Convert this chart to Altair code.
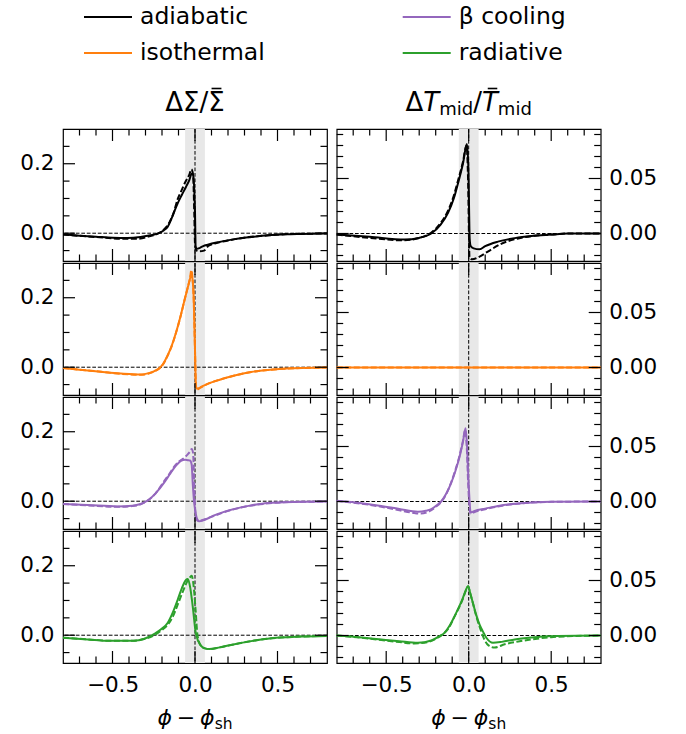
import altair as alt
import pandas as pd

# ---------------- data ----------------
models = ["adiabatic", "isothermal", "β cooling", "radiative"]
model_colors = ["#000000", "#ff7f0e", "#9467bd", "#2ca02c"]

x_major = [-0.5, 0.0, 0.5]
x_minor = [-0.7, -0.6, -0.4, -0.3, -0.2, -0.1, 0.1, 0.2, 0.3, 0.4, 0.6, 0.7]
sig_major = [0.0, 0.2]
sig_minor = [-0.05, 0.05, 0.1, 0.15, 0.25]
t_major = [0.0, 0.05]
t_minor = [-0.02, -0.01, 0.01, 0.02, 0.03, 0.04, 0.06, 0.07, 0.08, 0.09]

XDOM = [-0.8, 0.8]
YDOM_SIG = [-0.08, 0.3]
YDOM_T = [-0.025, 0.095]
shock_band = [-0.06, 0.06]

# adiabatic, surface density
adi_sig_x = [-0.8, -0.7, -0.6, -0.5, -0.41, -0.33, -0.27, -0.23, -0.19, -0.165, -0.14, -0.105, -0.08, -0.055, -0.035, -0.02, -0.012, 0.0, 0.004, 0.012, 0.03, 0.05, 0.077, 0.15, 0.24, 0.34, 0.44, 0.55, 0.64, 0.8]
adi_sig_y = [-0.004, -0.007, -0.010, -0.013, -0.014, -0.011, -0.006, -0.002, 0.008, 0.019, 0.045, 0.086, 0.11, 0.133, 0.152, 0.171, 0.168, 0.06, -0.04, -0.045, -0.042, -0.037, -0.033, -0.025, -0.017, -0.011, -0.006, -0.003, -0.002, -0.001]
adi_sig_dx = [-0.8, -0.6, -0.45, -0.35, -0.27, -0.23, -0.19, -0.16, -0.13, -0.105, -0.08, -0.06, -0.035, -0.022, -0.012, -0.004, 0.0, 0.01, 0.03, 0.055, 0.08, 0.12, 0.2, 0.3, 0.45, 0.6, 0.8]
adi_sig_dy = [-0.004, -0.011, -0.016, -0.016, -0.008, -0.002, 0.01, 0.027, 0.058, 0.098, 0.125, 0.146, 0.168, 0.184, 0.17, 0.05, -0.03, -0.05, -0.052, -0.05, -0.037, -0.03, -0.021, -0.013, -0.006, -0.002, -0.001]

# adiabatic, midplane temperature
adi_t_x = [-0.8, -0.6, -0.389, -0.3, -0.227, -0.17, -0.126, -0.09, -0.065, -0.035, -0.011, -0.002, 0.006, 0.012, 0.03, 0.066, 0.1, 0.177, 0.28, 0.38, 0.5, 0.6, 0.8]
adi_t_y = [-0.001, -0.003, -0.0054, -0.004, 0.0, 0.008, 0.0185, 0.032, 0.0455, 0.0634, 0.0813, 0.06, -0.005, -0.0114, -0.0135, -0.0144, -0.0115, -0.0074, -0.0042, -0.0023, -0.001, 0.0, 0.0]
adi_t_dx = [-0.8, -0.6, -0.4, -0.3, -0.23, -0.17, -0.126, -0.09, -0.065, -0.035, -0.013, -0.004, 0.005, 0.02, 0.066, 0.116, 0.197, 0.3, 0.4, 0.5, 0.6, 0.8]
adi_t_dy = [-0.001, -0.004, -0.0062, -0.004, 0.0005, 0.0095, 0.0205, 0.0345, 0.048, 0.065, 0.080, 0.05, -0.022, -0.0235, -0.021, -0.0164, -0.0094, -0.0045, -0.002, -0.001, 0.0, 0.0]

# isothermal, surface density
iso_sig_x = [-0.8, -0.7, -0.57, -0.45, -0.327, -0.28, -0.246, -0.22, -0.195, -0.17, -0.145, -0.115, -0.085, -0.06, -0.044, -0.03, -0.024, -0.018, -0.008, 0.0, 0.006, 0.012, 0.04, 0.077, 0.15, 0.24, 0.34, 0.44, 0.6, 0.8]
iso_sig_y = [-0.002, -0.007, -0.013, -0.018, -0.021, -0.017, -0.011, -0.004, 0.008, 0.03, 0.057, 0.1, 0.152, 0.2, 0.229, 0.255, 0.267, 0.262, 0.2, 0.05, -0.055, -0.062, -0.056, -0.048, -0.036, -0.024, -0.014, -0.008, -0.003, -0.001]
iso_sig_dx = [-0.8, -0.7, -0.57, -0.45, -0.327, -0.28, -0.246, -0.22, -0.195, -0.17, -0.145, -0.115, -0.085, -0.06, -0.044, -0.03, -0.022, -0.016, -0.008, 0.0, 0.006, 0.014, 0.04, 0.077, 0.15, 0.24, 0.34, 0.44, 0.6, 0.8]
iso_sig_dy = [-0.002, -0.007, -0.013, -0.019, -0.022, -0.018, -0.012, -0.005, 0.007, 0.029, 0.056, 0.099, 0.151, 0.2, 0.23, 0.257, 0.28, 0.262, 0.2, 0.05, -0.057, -0.064, -0.057, -0.048, -0.036, -0.024, -0.014, -0.008, -0.003, -0.001]

# isothermal, midplane temperature (no perturbation)
iso_t_x = [-0.8, 0.8]
iso_t_y = [0.0, 0.0]
iso_t_dx = [-0.8, 0.8]
iso_t_dy = [0.0, 0.0]

# beta cooling, surface density
bet_sig_x = [-0.8, -0.65, -0.47, -0.38, -0.33, -0.287, -0.24, -0.186, -0.155, -0.125, -0.1, -0.085, -0.06, -0.044, -0.03, -0.02, -0.014, -0.006, 0.0, 0.012, 0.026, 0.05, 0.08, 0.116, 0.18, 0.24, 0.34, 0.44, 0.6, 0.8]
bet_sig_y = [-0.008, -0.011, -0.015, -0.013, -0.008, 0.002, 0.022, 0.054, 0.076, 0.097, 0.11, 0.116, 0.119, 0.118, 0.117, 0.105, 0.054, 0.0, -0.022, -0.05, -0.058, -0.055, -0.049, -0.041, -0.03, -0.022, -0.012, -0.005, -0.002, -0.001]
bet_sig_dx = [-0.8, -0.65, -0.47, -0.38, -0.33, -0.29, -0.24, -0.19, -0.155, -0.125, -0.1, -0.08, -0.06, -0.044, -0.03, -0.02, -0.012, -0.004, 0.004, 0.015, 0.03, 0.06, 0.1, 0.18, 0.3, 0.45, 0.6, 0.8]
bet_sig_dy = [-0.008, -0.012, -0.016, -0.014, -0.009, 0.001, 0.022, 0.056, 0.079, 0.1, 0.113, 0.12, 0.127, 0.135, 0.143, 0.15, 0.14, 0.04, -0.045, -0.056, -0.056, -0.052, -0.045, -0.031, -0.016, -0.006, -0.002, -0.001]

# beta cooling, midplane temperature
bet_t_x = [-0.8, -0.65, -0.53, -0.42, -0.308, -0.26, -0.227, -0.19, -0.167, -0.135, -0.106, -0.08, -0.055, -0.035, -0.019, -0.01, 0.0, 0.012, 0.036, 0.1, 0.178, 0.28, 0.38, 0.5, 0.8]
bet_t_y = [0.0006, -0.0015, -0.004, -0.0068, -0.0093, -0.0085, -0.007, -0.003, 0.0, 0.0075, 0.017, 0.028, 0.041, 0.054, 0.0665, 0.05, 0.015, -0.01, -0.0085, -0.0065, -0.004, -0.002, -0.001, -0.0003, 0.0]
bet_t_dx = [-0.8, -0.65, -0.53, -0.42, -0.33, -0.29, -0.24, -0.2, -0.17, -0.135, -0.106, -0.08, -0.055, -0.035, -0.021, -0.012, -0.002, 0.01, 0.036, 0.1, 0.178, 0.28, 0.38, 0.5, 0.8]
bet_t_dy = [0.0004, -0.002, -0.0048, -0.008, -0.0105, -0.011, -0.009, -0.005, -0.001, 0.007, 0.0175, 0.029, 0.042, 0.055, 0.065, 0.05, 0.012, -0.011, -0.0095, -0.007, -0.0045, -0.0022, -0.001, -0.0003, 0.0]

# radiative, surface density
rad_sig_x = [-0.8, -0.65, -0.52, -0.37, -0.307, -0.246, -0.2, -0.165, -0.135, -0.105, -0.08, -0.055, -0.044, -0.03, -0.014, 0.006, 0.036, 0.06, 0.087, 0.15, 0.24, 0.34, 0.44, 0.64, 0.8]
rad_sig_y = [-0.007, -0.012, -0.016, -0.016, -0.01, 0.004, 0.019, 0.036, 0.065, 0.102, 0.135, 0.159, 0.162, 0.14, 0.084, 0.003, -0.03, -0.038, -0.04, -0.035, -0.026, -0.017, -0.01, -0.004, -0.002]
rad_sig_dx = [-0.8, -0.65, -0.52, -0.37, -0.3, -0.24, -0.2, -0.165, -0.13, -0.1, -0.07, -0.045, -0.03, -0.02, -0.008, 0.004, 0.015, 0.035, 0.06, 0.09, 0.15, 0.24, 0.34, 0.44, 0.64, 0.8]
rad_sig_dy = [-0.007, -0.012, -0.016, -0.016, -0.01, 0.002, 0.015, 0.03, 0.058, 0.094, 0.13, 0.157, 0.167, 0.171, 0.14, 0.07, 0.0, -0.03, -0.038, -0.04, -0.035, -0.026, -0.017, -0.01, -0.004, -0.002]

# radiative, midplane temperature
rad_t_x = [-0.8, -0.65, -0.53, -0.42, -0.308, -0.227, -0.185, -0.147, -0.115, -0.086, -0.06, -0.036, -0.018, -0.004, 0.01, 0.026, 0.045, 0.066, 0.085, 0.107, 0.147, 0.2, 0.279, 0.38, 0.48, 0.8]
rad_t_y = [0.0, -0.0018, -0.0036, -0.0052, -0.0066, -0.0045, -0.0012, 0.0024, 0.009, 0.0174, 0.0255, 0.0338, 0.041, 0.045, 0.038, 0.0294, 0.019, 0.0099, 0.004, -0.002, -0.0066, -0.0058, -0.0036, -0.0018, -0.0006, 0.0]
rad_t_dx = [-0.8, -0.65, -0.53, -0.42, -0.33, -0.25, -0.2, -0.16, -0.12, -0.09, -0.06, -0.036, -0.018, -0.004, 0.01, 0.026, 0.045, 0.066, 0.09, 0.12, 0.157, 0.218, 0.3, 0.38, 0.5, 0.8]
rad_t_dy = [0.0, -0.002, -0.0042, -0.006, -0.0072, -0.006, -0.003, 0.0008, 0.007, 0.016, 0.025, 0.033, 0.0405, 0.0445, 0.038, 0.029, 0.018, 0.008, -0.002, -0.009, -0.011, -0.008, -0.0055, -0.0036, -0.0015, 0.0]

# ---------------- style / layout ----------------
FONT = "DejaVu Sans"
LABEL_FS = 21.5
W, H = 264, 132
MAJ, MIN = 12, 6.5
TICK_W = 1.2
BAND_COLOR = "#e8e8e8"

color_scale = alt.Scale(domain=models, range=model_colors)

EM = {"Δ": 0.684, "Σ": 0.632, "/": 0.337, "T": 0.611, "m": 0.974, "i": 0.278,
      "d": 0.635, "ϕ": 0.66, "−": 0.838, "s": 0.521, "h": 0.634}


def label_axis(orient, values, fmt, pad):
    # labels only; ticks are drawn by tick layers
    return alt.Axis(orient=orient, values=values, format=fmt, labels=True, ticks=True,
                    tickSize=2, tickOpacity=0, domain=False, grid=False, title=None,
                    labelFontSize=LABEL_FS, labelFont=FONT, labelColor="black",
                    labelPadding=pad)


def tick_layer(values, channel, scale, pos, size):
    df = pd.DataFrame({"v": values})
    if channel == "x":
        enc = dict(x=alt.X("v:Q", scale=scale, axis=None), y=alt.value(pos))
    else:
        enc = dict(y=alt.Y("v:Q", scale=scale, axis=None), x=alt.value(pos))
    return alt.Chart(df).mark_tick(color="black", size=size, thickness=TICK_W, opacity=1).encode(**enc)


def panel(xs, ys, xd, yd, model, col, bottom):
    ydom = YDOM_SIG if col == 0 else YDOM_T
    sx = alt.Scale(domain=XDOM, nice=False, zero=False)
    sy = alt.Scale(domain=ydom, nice=False, zero=False)
    solid = pd.DataFrame({"x": xs, "y": ys, "model": model})
    dashed = pd.DataFrame({"x": xd, "y": yd, "model": model})
    ymaj = sig_major if col == 0 else t_major
    ymin = sig_minor if col == 0 else t_minor
    fmt = ".1f" if col == 0 else ".2f"

    band = alt.Chart(pd.DataFrame({"a": [shock_band[0]], "b": [shock_band[1]]})).mark_rect(
        color=BAND_COLOR).encode(x=alt.X("a:Q", scale=sx, axis=None), x2="b:Q")
    hline = alt.Chart(pd.DataFrame({"v": [0.0]})).mark_rule(
        color="black", strokeWidth=1, strokeDash=[3.7, 1.8]).encode(
        y=alt.Y("v:Q", scale=sy, axis=None))
    vline = alt.Chart(pd.DataFrame({"v": [0.0]})).mark_rule(
        color="black", strokeWidth=1, strokeDash=[3.7, 1.8]).encode(
        x=alt.X("v:Q", scale=sx, axis=None))

    cenc = alt.Color("model:N", scale=color_scale, legend=None)
    line_d = alt.Chart(dashed).mark_line(strokeWidth=2, interpolate="monotone",
                                         strokeDash=[6, 2.5]).encode(
        x=alt.X("x:Q", scale=sx, axis=None), y=alt.Y("y:Q", scale=sy, axis=None), color=cenc)
    line_s = alt.Chart(solid).mark_line(strokeWidth=2, interpolate="monotone").encode(
        x=alt.X("x:Q", scale=sx, axis=None), y=alt.Y("y:Q", scale=sy, axis=None), color=cenc)

    xaxis = label_axis("bottom", x_major, ".1f", 9) if bottom else None
    yaxis = label_axis("left" if col == 0 else "right", ymaj, fmt, 7 if col == 0 else 6)
    carrier = alt.Chart(solid).mark_line(opacity=0).encode(
        x=alt.X("x:Q", scale=sx, axis=xaxis), y=alt.Y("y:Q", scale=sy, axis=yaxis))

    ticks = [
        tick_layer(x_major, "x", sx, H - MAJ / 2, MAJ),
        tick_layer(x_major, "x", sx, MAJ / 2, MAJ),
        tick_layer(x_minor, "x", sx, H - MIN / 2, MIN),
        tick_layer(x_minor, "x", sx, MIN / 2, MIN),
        tick_layer(ymaj, "y", sy, MAJ / 2, MAJ),
        tick_layer(ymaj, "y", sy, W - MAJ / 2, MAJ),
        tick_layer(ymin, "y", sy, MIN / 2, MIN),
        tick_layer(ymin, "y", sy, W - MIN / 2, MIN),
    ]
    return alt.layer(carrier, band, hline, vline, line_d, line_s, *ticks).resolve_axis(
        x="independent", y="independent").properties(
        width=W, height=H, view=alt.ViewBackground(stroke="black", strokeWidth=1.2))


def text_run(pieces, cx, cy):
    """pieces: (text, size, italic, dy, gap_after_em, bar_over)"""
    def width(p):
        t, s, it, dy, gap, bar = p
        return sum(EM.get(ch, 0.6) for ch in t) * s + gap * s
    total = sum(width(p) for p in pieces)
    x = cx - total / 2
    out = []
    for p in pieces:
        t, s, it, dy, gap, bar = p
        w = sum(EM.get(ch, 0.6) for ch in t) * s
        out.append(alt.Chart(pd.DataFrame({"t": [t]})).mark_text(
            align="left", baseline="middle", fontSize=s, font=FONT,
            fontStyle="italic" if it else "normal", color="black").encode(
            x=alt.value(x), y=alt.value(cy + dy), text="t:N"))
        if bar:
            shift = 0.1 * s if it else 0.0
            out.append(alt.Chart(pd.DataFrame({"t": [t]})).mark_rule(
                color="black", strokeWidth=1.6).encode(
                x=alt.value(x + 0.2 * w + shift), x2=alt.value(x + 0.8 * w + shift),
                y=alt.value(cy - 0.5 * s - 1.5)))
        x += w + gap * s
    return out


def header(labels, line_x0, title_layers):
    df = pd.DataFrame({"label": labels, "slot": list(range(len(labels)))})
    ys = alt.Y("slot:Q", scale=alt.Scale(domain=[0, 1], range=[16, 52]), axis=None)
    rule = alt.Chart(df).mark_rule(strokeWidth=2).encode(
        x=alt.value(line_x0), x2=alt.value(line_x0 + 48), y=ys,
        color=alt.Color("label:N", scale=color_scale, legend=None))
    txt = alt.Chart(df).mark_text(align="left", baseline="middle", fontSize=23.5,
                                  font=FONT, color="black").encode(
        x=alt.value(line_x0 + 56), y=ys, text="label:N")
    return alt.layer(rule, txt, *title_layers).properties(
        width=W, height=126, view=alt.ViewBackground(stroke="transparent"))


TFS = 26
SUB = 18
TITLE_Y = 102
title_left = text_run([("ΔΣ/", TFS, False, 0, 0, False), ("Σ", TFS, False, 0, 0, True)], 132, TITLE_Y)
title_right = text_run([("Δ", TFS, False, 0, 0, False), ("T", TFS, True, 0, 0, False),
                        ("mid", SUB, False, 7, 0, False), ("/", TFS, False, 0, 0, False),
                        ("T", TFS, True, 0, 0, True), ("mid", SUB, False, 7, 0, False)],
                       132, TITLE_Y)

head_L = header(models[:2], 21, title_left)
head_R = header(models[2:], 66, title_right)


def footer():
    layers = text_run([("ϕ", 22, True, 0, 0.22, False), ("−", 22, False, 0, 0.22, False),
                       ("ϕ", 22, True, 0, 0, False), ("sh", 15.5, False, 6, 0, False)], 132, 53)
    return alt.layer(*layers).properties(
        width=W, height=70, view=alt.ViewBackground(stroke="transparent"))


rows = [
    (adi_sig_x, adi_sig_y, adi_sig_dx, adi_sig_dy, adi_t_x, adi_t_y, adi_t_dx, adi_t_dy, models[0]),
    (iso_sig_x, iso_sig_y, iso_sig_dx, iso_sig_dy, iso_t_x, iso_t_y, iso_t_dx, iso_t_dy, models[1]),
    (bet_sig_x, bet_sig_y, bet_sig_dx, bet_sig_dy, bet_t_x, bet_t_y, bet_t_dx, bet_t_dy, models[2]),
    (rad_sig_x, rad_sig_y, rad_sig_dx, rad_sig_dy, rad_t_x, rad_t_y, rad_t_dx, rad_t_dy, models[3]),
]

cells = [head_L, head_R]
for i, r in enumerate(rows):
    last = i == len(rows) - 1
    cells.append(panel(r[0], r[1], r[2], r[3], r[8], 0, last))
    cells.append(panel(r[4], r[5], r[6], r[7], r[8], 1, last))
cells += [footer(), footer()]

chart = alt.concat(*cells, columns=2, spacing={"row": 2, "column": 9.7}, bounds="flush").properties(
    padding={"left": 19, "top": 0, "right": 0, "bottom": 0}
).configure(background="white")

chart.save("out.html", embed_options={"renderer": "svg", "actions": False})
